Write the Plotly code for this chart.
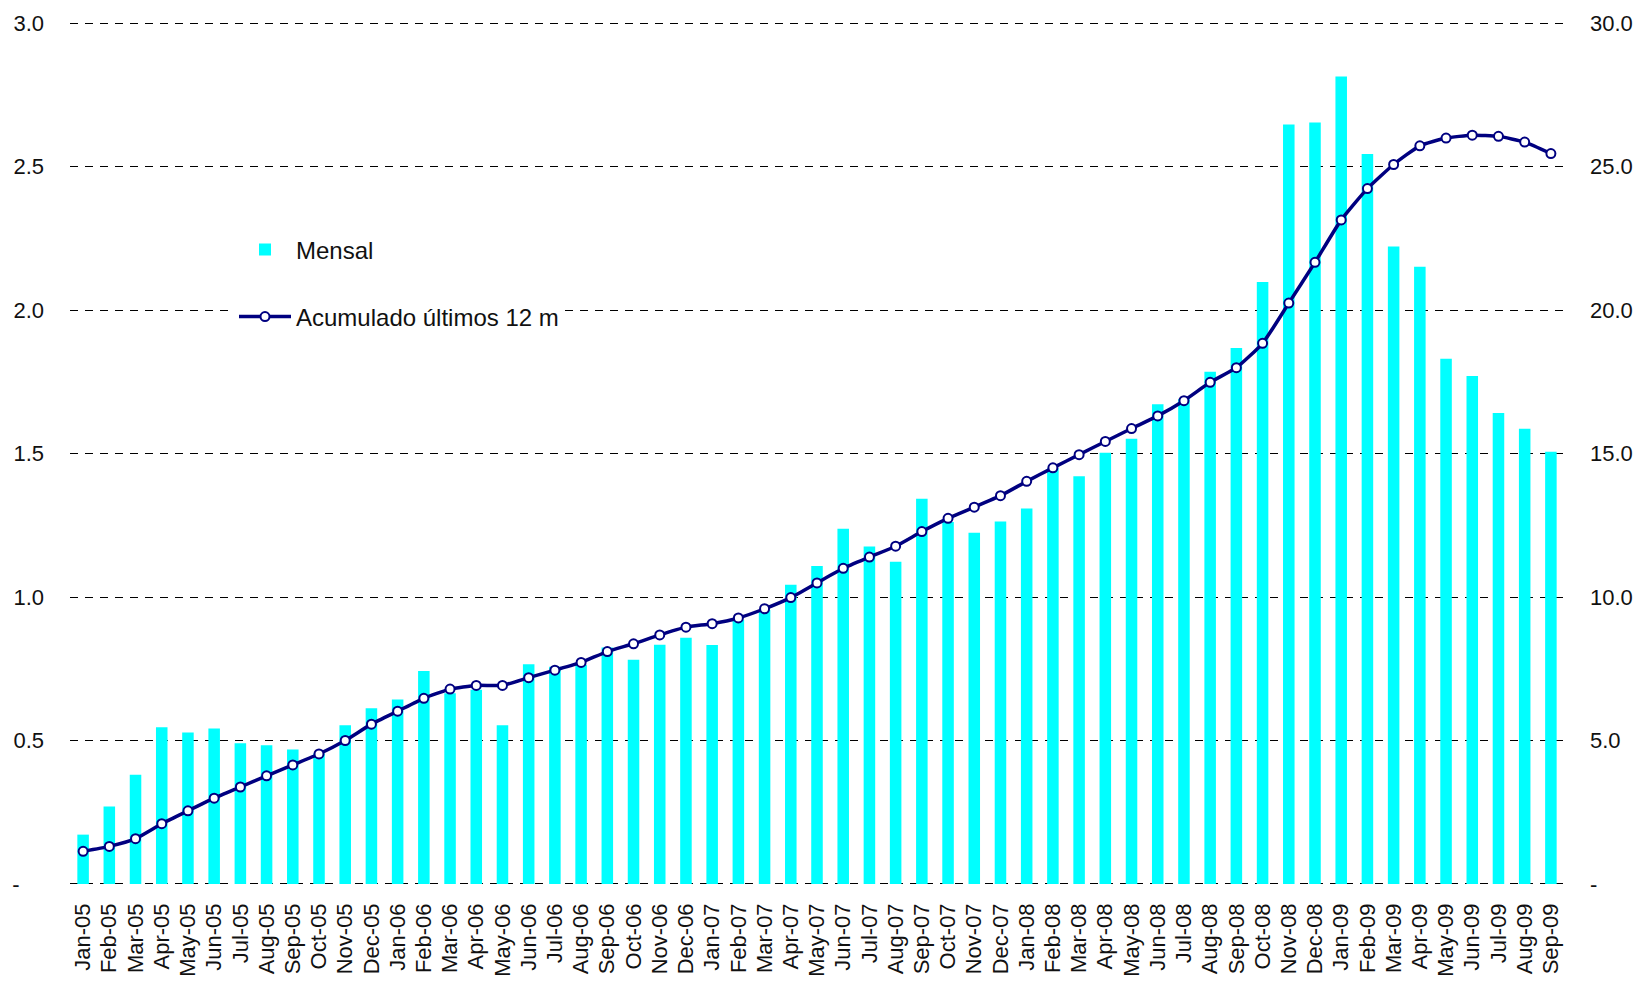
import plotly.graph_objects as go

months = [
    "Jan-05", "Feb-05", "Mar-05", "Apr-05", "May-05", "Jun-05", "Jul-05", "Aug-05", "Sep-05", "Oct-05", "Nov-05", "Dec-05",
    "Jan-06", "Feb-06", "Mar-06", "Apr-06", "May-06", "Jun-06", "Jul-06", "Aug-06", "Sep-06", "Oct-06", "Nov-06", "Dec-06",
    "Jan-07", "Feb-07", "Mar-07", "Apr-07", "May-07", "Jun-07", "Jul-07", "Aug-07", "Sep-07", "Oct-07", "Nov-07", "Dec-07",
    "Jan-08", "Feb-08", "Mar-08", "Apr-08", "May-08", "Jun-08", "Jul-08", "Aug-08", "Sep-08", "Oct-08", "Nov-08", "Dec-08",
    "Jan-09", "Feb-09", "Mar-09", "Apr-09", "May-09", "Jun-09", "Jul-09", "Aug-09", "Sep-09",
]

mensal = [
    0.172, 0.270, 0.381, 0.546, 0.528, 0.542, 0.490, 0.483, 0.469, 0.455, 0.553, 0.612,
    0.643, 0.742, 0.665, 0.677, 0.553, 0.766, 0.757, 0.763, 0.824, 0.781, 0.834, 0.858,
    0.833, 0.920, 0.955, 1.043, 1.108, 1.238, 1.176, 1.123, 1.342, 1.261, 1.224, 1.263,
    1.308, 1.449, 1.421, 1.503, 1.551, 1.672, 1.690, 1.785, 1.868, 2.098, 2.646, 2.653,
    2.814, 2.544, 2.221, 2.151, 1.830, 1.770, 1.641, 1.586, 1.506,
]

acumulado = [
    1.14, 1.31, 1.58, 2.10, 2.55, 2.99, 3.38, 3.77, 4.15, 4.53, 5.00, 5.57,
    6.02, 6.47, 6.79, 6.92, 6.92, 7.19, 7.45, 7.72, 8.10, 8.37, 8.68, 8.95,
    9.07, 9.27, 9.59, 9.98, 10.49, 11.00, 11.39, 11.77, 12.28, 12.74, 13.13, 13.53,
    14.03, 14.50, 14.96, 15.42, 15.87, 16.31, 16.84, 17.48, 17.99, 18.84, 20.24, 21.66,
    23.14, 24.23, 25.07, 25.72, 25.99, 26.09, 26.05, 25.85, 25.45,
]

left_tickvals = [0, 0.5, 1.0, 1.5, 2.0, 2.5, 3.0]
left_ticktext = ["-\u00a0\u00a0\u00a0\u00a0", "0.5", "1.0", "1.5", "2.0", "2.5", "3.0"]
right_tickvals = [0, 5, 10, 15, 20, 25, 30]
right_ticktext = ["-", "5.0", "10.0", "15.0", "20.0", "25.0", "30.0"]

FONT = "Liberation Sans, Arial, Helvetica, sans-serif"
CYAN = "#00FFFF"
NAVY = "#000080"

fig = go.Figure()
fig.add_trace(go.Bar(
    x=months, y=mensal, name="Mensal",
    marker=dict(color=CYAN, line=dict(width=0)),
    yaxis="y", legend="legend",
))
fig.add_trace(go.Scatter(
    x=months, y=acumulado, name="Acumulado últimos 12 m",
    mode="lines+markers",
    line=dict(color=NAVY, width=3.5, shape="spline", smoothing=0.5),
    marker=dict(symbol="circle", size=9, color="white", line=dict(color=NAVY, width=2)),
    yaxis="y2", legend="legend2",
))

L, R, T, B = 70, 78, 21, 95
W, H = 1642, 981
pw = W - L - R
ph = H - T - B

def px_x(x):
    return (x - L) / pw

def px_y(y):
    return (H - B - y) / ph

eps = 0.007
fig.update_layout(
    width=W, height=H,
    margin=dict(l=L, r=R, t=T, b=B, pad=0, autoexpand=False),
    paper_bgcolor="white", plot_bgcolor="white",
    bargap=0.56,
    font=dict(family=FONT, size=22, color="#111111"),
    xaxis=dict(
        type="category", range=[-0.5, len(months) - 0.5], automargin=False,
        tickangle=-90, showgrid=False, ticks="", showline=False, zeroline=False,
        tickfont=dict(size=22, color="#111111"), ticklabelstandoff=12,
    ),
    yaxis=dict(
        range=[-eps, 3 + eps], tickvals=left_tickvals, ticktext=left_ticktext,
        showgrid=True, gridcolor="#000000", gridwidth=1, griddash="8px,7px",
        zeroline=False, showline=False, ticks="", ticklabelstandoff=25,
        automargin=False, tickfont=dict(size=22, color="#111111"),
    ),
    yaxis2=dict(
        range=[-eps * 10, 30 + eps * 10], overlaying="y", side="right",
        tickvals=right_tickvals, ticktext=right_ticktext,
        showgrid=False, zeroline=False, showline=False, ticks="", ticklabelstandoff=25,
        automargin=False, tickfont=dict(size=22, color="#111111"),
    ),
    showlegend=True,
    legend=dict(
        x=px_x(234), y=px_y(250), xanchor="left", yanchor="middle",
        bgcolor="white", borderwidth=0, itemwidth=52,
        font=dict(size=24, color="#111111"),
    ),
    legend2=dict(
        x=px_x(234), y=px_y(317), xanchor="left", yanchor="middle",
        bgcolor="white", borderwidth=0, itemwidth=52,
        font=dict(size=24, color="#111111"),
    ),
)

fig.write_html(
    "out.html",
    config={"displayModeBar": False},
    post_script="document.body.style.margin='0';document.body.style.overflow='hidden';",
)
